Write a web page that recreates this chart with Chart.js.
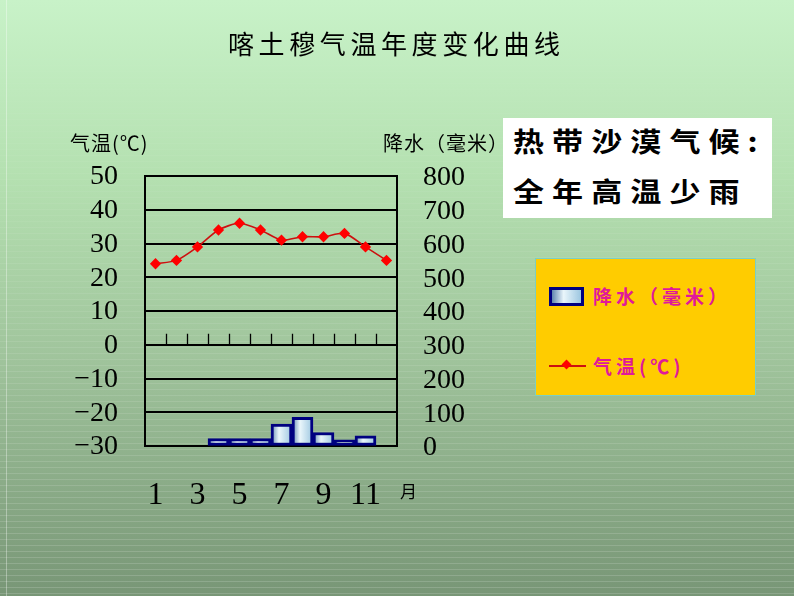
<!DOCTYPE html>
<html>
<head>
<meta charset="utf-8">
<script src="https://cdn.jsdelivr.net/npm/chart.js@4.4.1/dist/chart.umd.min.js"></script>
<style>
html,body{margin:0;padding:0;}
body{width:794px;height:596px;overflow:hidden;position:relative;
  background:linear-gradient(to bottom,#c8f2c8 0%,#b4e0b0 30%,#a0c49c 60%,#789676 100%);
  font-family:"Noto Sans CJK SC",sans-serif;}
#scan{position:absolute;left:0;top:0;width:794px;height:596px;
  background:repeating-linear-gradient(to bottom,rgba(255,255,255,0) 0px,rgba(255,255,255,0) 5px,rgba(255,255,255,0.16) 5px,rgba(255,255,255,0.16) 6px);
  -webkit-mask-image:linear-gradient(to bottom,rgba(0,0,0,0) 0%,rgba(0,0,0,0.4) 40%,#000 100%);
  mask-image:linear-gradient(to bottom,rgba(0,0,0,0) 0%,rgba(0,0,0,0.4) 40%,#000 100%);}
#edge{position:absolute;left:6px;top:0;width:1px;height:596px;background:rgba(255,255,255,0.35);}
#c{position:absolute;left:0;top:0;}
.t{position:absolute;white-space:nowrap;color:#000;}
#title{left:228px;top:27px;font-size:26px;line-height:32px;letter-spacing:4.6px;font-weight:400;}
#ytitleL{left:70px;top:131px;font-size:20px;line-height:24px;letter-spacing:1px;}
#ytitleR{left:383px;top:131px;font-size:20px;line-height:24px;letter-spacing:1px;}
#xunit{left:400px;top:480px;font-size:17px;line-height:22px;}
#note{position:absolute;left:503px;top:118px;width:269px;height:100px;background:#fff;}
.nl{position:absolute;left:10px;font-size:27px;line-height:32px;font-weight:bold;letter-spacing:7px;transform:scaleX(1.15);transform-origin:left center;white-space:nowrap;color:#000;}
#legend{position:absolute;left:535px;top:258px;width:219px;height:136px;background:#ffcc00;border:1.5px solid #7ccfc2;}
.li{position:absolute;left:0;width:219px;height:30px;}
.lt{position:absolute;left:57px;top:0;font-size:19px;line-height:30px;font-weight:bold;color:#e0199b;letter-spacing:4px;white-space:nowrap;}
.sw-bar{position:absolute;left:13px;top:6px;width:29px;height:13px;border:3px solid #000080;
  background:linear-gradient(to right,#5f86b0 0%,#eaf6fb 40%,#9cc6e0 100%);}
.sw-line{position:absolute;left:13px;top:14px;width:37px;height:2px;background:#cc1010;}
.sw-dot{position:absolute;left:27px;top:10px;width:7px;height:7px;background:#ff0000;transform:rotate(45deg);}
</style>
</head>
<body>
<div id="scan"></div>
<div id="edge"></div>
<canvas id="c" width="794" height="596"></canvas>
<div class="t" id="title">喀土穆气温年度变化曲线</div>
<div class="t" id="ytitleL">气温(℃)</div>
<div class="t" id="ytitleR">降水（毫米）</div>
<div class="t" id="xunit">月</div>
<div id="note">
  <div class="nl" style="top:7px;">热带沙漠气候:</div>
  <div class="nl" style="top:57px;">全年高温少雨</div>
</div>
<div id="legend"></div>
<script>
// ---- data ----
const months = ['1','2','3','4','5','6','7','8','9','10','11','12'];
const monthTickLabels = ['1','','3','','5','','7','','9','','11',''];
const temperature = [24, 25, 29, 34, 36, 34, 31, 32, 32, 33, 29, 25];
const precipitation = [0, 0, 0, 22, 22, 22, 65, 85, 40, 18, 30, 0];
const tempTickLabels = ['−30','−20','−10','0','10','20','30','40','50'];
const precipTickLabels = ['0','100','200','300','400','500','600','700','800'];
const seriesNames = ['降水（毫米）', '气温(℃)'];

const tickFont = {family:'"Liberation Serif", "Times New Roman", serif', size:28};

function barGradient(ctx){
  const chart = ctx.chart;
  const xs = chart.scales && chart.scales.x;
  if (!xs || ctx.dataIndex == null || !chart.chartArea) return '#a8d0e8';
  const cx = xs.getPixelForValue(ctx.dataIndex);
  const w = xs.getPixelForValue(1) - xs.getPixelForValue(0);
  const g = chart.ctx.createLinearGradient(cx - w/2, 0, cx + w/2, 0);
  g.addColorStop(0, '#5f86b0');
  g.addColorStop(0.38, '#eaf6fb');
  g.addColorStop(1, '#9cc6e0');
  return g;
}

const zeroTicks = {
  id:'zeroTicks',
  afterDatasetsDraw(chart){
    const {ctx, scales:{x, y}} = chart;
    const y0 = y.getPixelForValue(0);
    ctx.save();
    ctx.strokeStyle = '#000';
    ctx.lineWidth = 1.3;
    for (let i = 0; i < months.length - 1; i++){
      const xp = Math.round((x.getPixelForValue(i) + x.getPixelForValue(i+1)) / 2) + 0.5;
      ctx.beginPath();
      ctx.moveTo(xp, y0);
      ctx.lineTo(xp, y0 - 11);
      ctx.stroke();
    }
    ctx.restore();
  }
};

const chart = new Chart(document.getElementById('c'), {
  data:{
    labels: months,
    datasets:[
      {type:'bar', label:seriesNames[0], data:precipitation, yAxisID:'y1',
       backgroundColor:barGradient, borderColor:'#000080', borderWidth:3, borderSkipped:false,
       barPercentage:1, categoryPercentage:1, order:2},
      {type:'line', label:seriesNames[1], data:temperature, yAxisID:'y',
       borderColor:'#cc1010', borderWidth:1.6, tension:0.25,
       pointStyle:'rectRot', pointRadius:4.5, pointBackgroundColor:'#ff0000', pointBorderColor:'#ff0000',
       order:1}
    ]
  },
  options:{
    responsive:false, animation:false, devicePixelRatio:1,
    layout:{padding:{top:176, left:0, right:0, bottom:0}},
    plugins:{legend:{display:false}, tooltip:{enabled:false}, title:{display:false}},
    scales:{
      x:{type:'category', offset:true,
         grid:{display:false, drawTicks:false}, border:{display:false},
         ticks:{autoSkip:false, maxRotation:0, minRotation:0, padding:30, color:'#000',
                font:{family:tickFont.family, size:32},
                callback:(v,i)=>monthTickLabels[i]},
         afterFit(s){ s.height = 150; }},
      y:{position:'left', min:-30, max:50,
         grid:{color:'#000', lineWidth:2, drawTicks:false},
         border:{color:'#000', width:2},
         ticks:{stepSize:10, autoSkip:false, padding:27, color:'#000', font:tickFont, labelOffset:1,
                callback:(v,i)=>tempTickLabels[i]},
         afterFit(s){ s.width = 145; }},
      y1:{position:'right', min:0, max:800,
         grid:{drawOnChartArea:false, drawTicks:false},
         border:{color:'#000', width:2},
         ticks:{stepSize:100, autoSkip:false, padding:26, color:'#000', font:tickFont, labelOffset:2,
                callback:(v,i)=>precipTickLabels[i]},
         afterFit(s){ s.width = 397; }}
    }
  },
  plugins:[zeroTicks]
});

// HTML legend built from the chart's datasets
const legendEl = document.getElementById('legend');
chart.data.datasets.forEach((ds, i) => {
  const item = document.createElement('div');
  item.className = 'li';
  item.style.top = (i === 0 ? 22 : 92) + 'px';
  if (ds.type === 'bar') {
    const sw = document.createElement('div'); sw.className = 'sw-bar'; item.appendChild(sw);
  } else {
    const ln = document.createElement('div'); ln.className = 'sw-line'; item.appendChild(ln);
    const dt = document.createElement('div'); dt.className = 'sw-dot'; item.appendChild(dt);
  }
  const tx = document.createElement('div'); tx.className = 'lt'; tx.textContent = ds.label;
  item.appendChild(tx);
  legendEl.appendChild(item);
});
</script>
</body>
</html>
